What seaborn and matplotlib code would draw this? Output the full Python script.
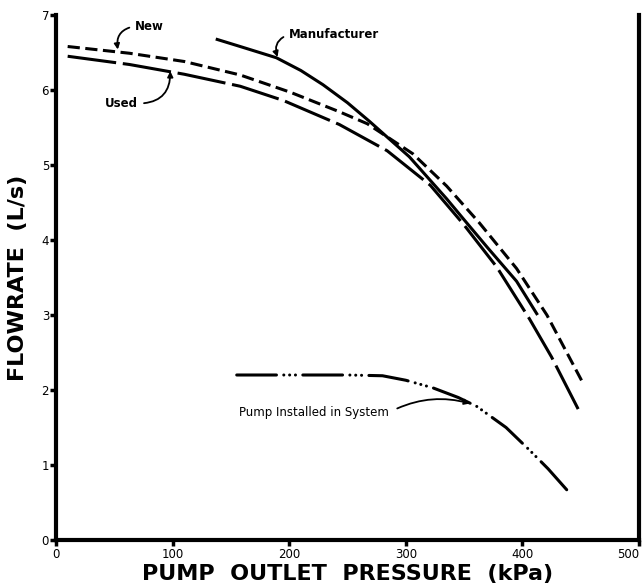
import matplotlib
matplotlib.use("Agg")
import matplotlib.pyplot as plt
import seaborn as sns
import pandas as pd

# Data
new_x = [10, 63, 110, 158, 201, 243, 267, 306, 335, 363, 395, 421, 451]
new_y = [6.58, 6.49, 6.38, 6.20, 5.97, 5.71, 5.55, 5.15, 4.72, 4.23, 3.62, 3.00, 2.12]

used_x = [10, 63, 110, 158, 195, 243, 284, 321, 350, 378, 406, 425, 449]
used_y = [6.45, 6.34, 6.21, 6.05, 5.86, 5.54, 5.19, 4.73, 4.20, 3.64, 2.95, 2.44, 1.71]

manuf_x = [137, 160, 189, 210, 229, 250, 269, 303, 335, 350, 370, 395, 413]
manuf_y = [6.68, 6.57, 6.43, 6.26, 6.07, 5.83, 5.58, 5.11, 4.55, 4.27, 3.90, 3.45, 3.00]

pump_x = [155, 200, 250, 280, 300, 323, 345, 361, 386, 406, 422, 438]
pump_y = [2.20, 2.20, 2.20, 2.19, 2.13, 2.03, 1.90, 1.78, 1.50, 1.20, 0.95, 0.67]

x_ticks = [0, 100, 200, 300, 400, 500]
y_ticks = [0, 1, 2, 3, 4, 5, 6, 7]

sns.set_theme(style="ticks")
plt.rcParams['font.family'] = ['DejaVu Sans']
for key in ['text.color', 'axes.labelcolor', 'xtick.color', 'ytick.color',
            'axes.edgecolor']:
    plt.rcParams[key] = 'black'

fig = plt.figure(figsize=(6.42, 5.88), dpi=100)
ax = fig.add_axes([56 / 642, 48 / 588, (639 - 56) / 642, (540 - 15) / 588])

lw = 2.2
series = [
    (new_x, new_y, (4, 1.8), "butt"),
    (used_x, used_y, (16, 2.2), "butt"),
    (manuf_x, manuf_y, None, "butt"),
    (pump_x, pump_y, (13, 2.4, 0.01, 1.9, 0.01, 1.9, 0.01, 2.4), "round"),
]
for xs, ys, dash, cap in series:
    df = pd.DataFrame({"x": xs, "y": ys})
    sns.lineplot(data=df, x="x", y="y", ax=ax, color="black", linewidth=lw,
                 sort=False, estimator=None)
    line = ax.lines[-1]
    line.set_solid_capstyle("butt")
    line.set_dash_capstyle(cap)
    line.set_solid_joinstyle("round")
    line.set_dash_joinstyle("round")
    if dash is not None:
        line.set_dashes(dash)

ax.set_xlim(0, 500)
ax.set_ylim(0, 7)
ax.set_xticks(x_ticks)
ax.set_yticks(y_ticks)
ax.set_xticklabels([str(v) for v in x_ticks])
ax.set_yticklabels([str(v) for v in y_ticks])
ax.get_xticklabels()[-1].set_ha("right")

for side in ["left", "bottom", "right"]:
    ax.spines[side].set_linewidth(3)
    ax.spines[side].set_color("black")
ax.spines["top"].set_visible(False)
ax.tick_params(axis="both", length=4, width=2.5, labelsize=8.5, color="black",
               labelcolor="black", pad=2)
ax.tick_params(axis="y", pad=1)

ax.set_xlabel("PUMP  OUTLET  PRESSURE  (kPa)", fontsize=16, fontweight="bold",
              labelpad=2)
ax.set_ylabel("FLOWRATE  (L/s)", fontsize=16, fontweight="bold", labelpad=10)

arrow = dict(arrowstyle="-|>", color="black", lw=1.3, mutation_scale=8,
             shrinkA=2, shrinkB=0)

ax.annotate("New", xy=(53, 6.54), xytext=(68, 6.85), fontsize=8.5,
            fontweight="bold", ha="left", va="center",
            arrowprops=dict(arrow, relpos=(0, 0.5),
                            connectionstyle="arc3,rad=0.5"))
ax.annotate("Used", xy=(98, 6.25), xytext=(42, 5.82), fontsize=8.5,
            fontweight="bold", ha="left", va="center",
            arrowprops=dict(arrow, relpos=(1, 0.5),
                            connectionstyle="arc3,rad=0.5"))
ax.annotate("Manufacturer", xy=(190, 6.44), xytext=(200, 6.74), fontsize=8.5,
            fontweight="bold", ha="left", va="center",
            arrowprops=dict(arrow, relpos=(0, 0.5),
                            connectionstyle="arc3,rad=0.5"))
ax.annotate("Pump Installed in System", xy=(355, 1.82), xytext=(157, 1.70),
            fontsize=8.5, ha="left", va="center",
            arrowprops=dict(arrow, relpos=(1, 0.5), shrinkA=4,
                            connectionstyle="arc3,rad=-0.2"))

fig.savefig("out.png", dpi=100, facecolor="white")
